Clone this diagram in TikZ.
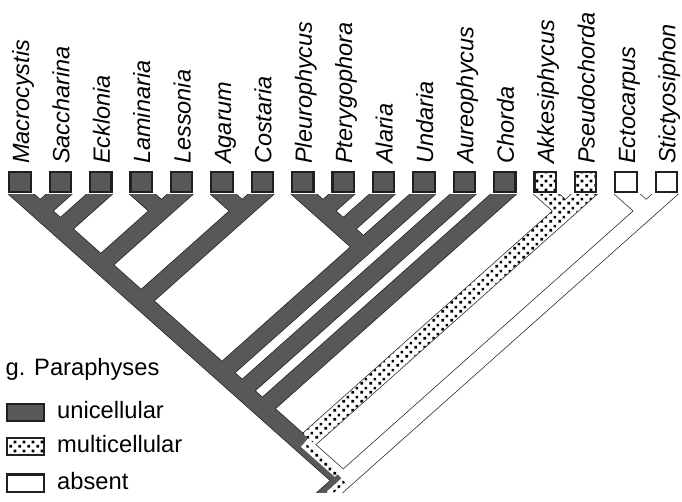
\documentclass[tikz,border=0pt]{standalone}
\usepackage{fontspec}
\setmainfont{Liberation Sans}
\usetikzlibrary{calc,patterns}

\definecolor{unic}{HTML}{58585A}
\definecolor{rim}{HTML}{231F20}
\definecolor{edge}{HTML}{1E1E1E}

% small black squares on a staggered grid (multicellular state)
\pgfdeclarepatternformonly{cells}{\pgfqpoint{0pt}{0pt}}{\pgfqpoint{9pt}{9pt}}{\pgfqpoint{9pt}{9pt}}{%
  \pgfpathrectangle{\pgfqpoint{0.5pt}{0.5pt}}{\pgfqpoint{2.9pt}{2.9pt}}%
  \pgfpathrectangle{\pgfqpoint{5pt}{5pt}}{\pgfqpoint{2.9pt}{2.9pt}}%
  \pgfusepath{fill}}

% closed outline of a straight band of half-width #3 from (#1) to (#2)
\newcommand\bandpath[3]{($(#1)!#3!90:(#2)$) -- ($(#2)!#3!-90:(#1)$) -- ($(#2)!#3!90:(#1)$) -- ($(#1)!#3!-90:(#2)$) -- cycle}

\begin{document}
\begin{tikzpicture}[x=1pt,y=-1pt,
  tipbox/.style={rectangle, draw=rim, line width=2.2pt, minimum width=21.3pt,
    minimum height=19.8pt, inner sep=0pt},
  gbox/.style={tipbox, fill=unic},
  dbox/.style={tipbox, preaction={fill=white}, pattern=cells},
  wbox/.style={tipbox, fill=white},
  keybox/.style={minimum width=36.8pt, minimum height=17.2pt},
  taxon/.style={rotate=90, anchor=base west, inner sep=0pt,
    font=\fontsize{23.5}{28}\selectfont\itshape},
  keytext/.style={anchor=base west, inner sep=0pt, font=\fontsize{23.7}{28}\selectfont},
  rimline/.style={line width=18pt, draw=edge},
  gband/.style={line width=16.6pt, draw=unic},
  wband/.style={line width=16.6pt, draw=white},
  dband/.style={preaction={fill=white}, pattern=cells},
  strip/.style={line width=5.6pt}]
\useasboundingbox (0,0) rectangle (682,502);

% taxa: box, name, tip point at the lower edge of the box
\foreach \n/\x/\kind/\name in {
  M/20/gbox/Macrocystis, S/60.4/gbox/Saccharina, E/100.8/gbox/Ecklonia,
  La/141.2/gbox/Laminaria, Le/181.6/gbox/Lessonia, Ag/222/gbox/Agarum,
  Co/262.4/gbox/Costaria, P/302.8/gbox/Pleurophycus, Pt/343.2/gbox/Pterygophora,
  Al/383.6/gbox/Alaria, Un/424/gbox/Undaria, Au/464.4/gbox/Aureophycus,
  Ch/504.8/gbox/Chorda, Ak/545.2/dbox/Akkesiphycus, Ps/585.6/dbox/Pseudochorda,
  Ec/626/wbox/Ectocarpus, St/666.4/wbox/Stictyosiphon}{
  \node[\kind] (b\n) at (\x,182) {};
  \node[taxon] (l\n) at (\x+9,164) {\name};
  \coordinate (t\n) at (\x,193);
}

% internal nodes of the slanted cladogram
\coordinate (nMS)  at (40.2,211.0);
\coordinate (nMSE) at (60.4,229.0);
\coordinate (nLL)  at (161.4,211.0);
\coordinate (nA)   at (100.8,264.9);
\coordinate (nAC)  at (242.2,211.0);
\coordinate (nB)   at (141.2,300.9);
\coordinate (nPP)  at (323.0,211.0);
\coordinate (nPPA) at (343.2,229.0);
\coordinate (nPcl) at (363.4,246.9);
\coordinate (nC)   at (222.0,372.8);
\coordinate (nD)   at (242.2,390.8);
\coordinate (nE)   at (262.4,408.7);
\coordinate (nAP)  at (565.4,211.0);
\coordinate (nF)   at (302.8,444.7);
\coordinate (nES)  at (646.2,211.0);
\coordinate (root) at (343.2,480.6);
\coordinate (sEnd) at (315.8,505.0);

% each terminal branch starts a little above its tip (cut flat by the clip)
\foreach \n/\m in {M/nF, S/nMS, E/nMSE, La/nLL, Le/nA, Ag/nAC, Co/nB, P/nPcl,
  Pt/nPP, Al/nPPA, Un/nC, Au/nD, Ch/nE, Ak/nAP, Ps/nF, Ec/nES, St/root}
  \coordinate (u\n) at ($(t\n)!-18pt!(\m)$);

\begin{scope}
  \clip (0,194.8) rectangle (682,492);
  % dark rim around the whole tree
  \foreach \a/\b in {uM/nF, uS/nMS, uE/nMSE, uLa/nLL, uLe/nA, uAg/nAC, uCo/nB,
    uP/nPcl, uPt/nPP, uAl/nPPA, uUn/nC, uAu/nD, uCh/nE, uAk/nAP, uPs/nF,
    uEc/nES, uSt/root, nF/root, root/sEnd}
    \draw[rimline] (\a) -- (\b);
  % paraphyses absent
  \draw[wband] (uEc) -- (nES);
  \draw[wband] (uSt) -- (root);
  % multicellular
  \fill[dband] \bandpath{uAk}{nAP}{8.3pt};
  \fill[dband] \bandpath{uPs}{nF}{8.3pt};
  % unicellular
  \foreach \a/\b in {uM/nF, uS/nMS, uE/nMSE, uLa/nLL, uLe/nA, uAg/nAC, uCo/nB,
    uP/nPcl, uPt/nPP, uAl/nPPA, uUn/nC, uAu/nD, uCh/nE}
    \draw[gband] (\a) -- (\b);
  % equivocal branches near the root
  \foreach \a/\b in {nF/root, root/sEnd}{
    \draw[strip, unic] ($(\a)!5.53pt!-90:(\b)$) -- ($(\b)!5.53pt!90:(\a)$);
    \draw[strip, white] ($(\a)!5.53pt!90:(\b)$) -- ($(\b)!5.53pt!-90:(\a)$);
    \fill[dband] \bandpath{\a}{\b}{2.8pt};
  }
\end{scope}

% legend
\node[keytext] (title) at (5.5,375) {g. Paraphyses};
\node[gbox, keybox] (kU) at (25.5,412.5) {};
\node[dbox, keybox] (kM) at (25.5,446.5) {};
\node[wbox, keybox] (kA) at (25.5,483) {};
\node[keytext] (tU) at (57,418) {unicellular};
\node[keytext] (tM) at (57,452) {multicellular};
\node[keytext] (tA) at (57,489) {absent};
\end{tikzpicture}
\end{document}
